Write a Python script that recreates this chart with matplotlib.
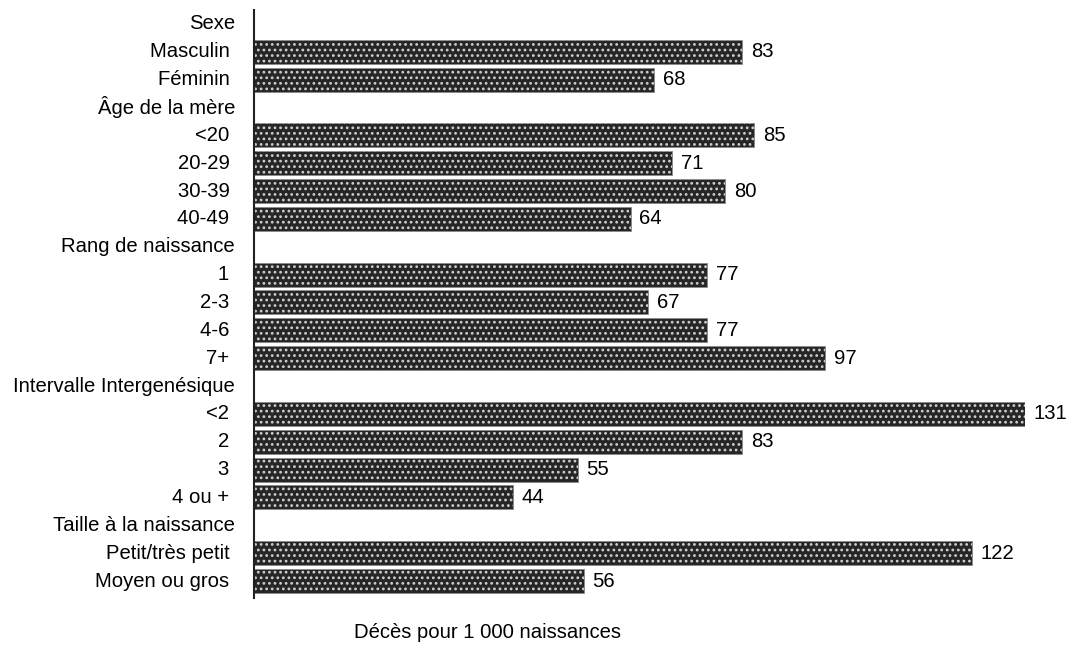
import matplotlib
matplotlib.use("Agg")
import matplotlib.pyplot as plt
import matplotlib.transforms as mtransforms
import numpy as np

plt.rcParams['font.family'] = ['Liberation Sans', 'DejaVu Sans']
plt.rcParams['hatch.linewidth'] = 1.2

# rows: group headers have no value
labels = ["Sexe", "Masculin", "Féminin",
          "Âge de la mère", "<20", "20-29", "30-39", "40-49",
          "Rang de naissance", "1", "2-3", "4-6", "7+",
          "Intervalle Intergenésique", "<2", "2", "3", "4 ou +",
          "Taille à la naissance", "Petit/très petit", "Moyen ou gros"]
values = [None, 83, 68,
          None, 85, 71, 80, 64,
          None, 77, 67, 77, 97,
          None, 131, 83, 55, 44,
          None, 122, 56]
xlabel = "Décès pour 1 000 naissances"
fs = 14.6

fig = plt.figure(figsize=(10.69, 6.46), dpi=100)
ax = fig.add_axes([254 / 1069, 1 - 598 / 646, 771 / 1069, 588 / 646])

# label position: a fixed pixel offset left of the axis line
lab_tr = ax.get_yaxis_transform() + mtransforms.ScaledTranslation(-19 / 100, 0, fig.dpi_scale_trans)

n = len(labels)
ypos = np.arange(n)
for y, lab, v in zip(ypos, labels, values):
    if v is None:
        ax.text(0, y, lab, ha='right', va='center', fontsize=fs,
                transform=lab_tr, clip_on=False)
        continue
    ax.barh(y, v, height=0.86, color='#262626', edgecolor='#8a8a8a', linewidth=0.6)
    ax.barh(y, v, height=0.86, color='none', edgecolor='#cfcfcf', hatch='...',
            linewidth=0)
    ax.text(0, y, lab + " ", ha='right', va='center', fontsize=fs,
            transform=lab_tr, clip_on=False)
    ax.text(v + 1.5, y, str(v), ha='left', va='center', fontsize=fs, clip_on=False)

ax.set_xlim(0, 131)
ax.set_ylim(20.61, -0.5)
ax.set_xticks([])
ax.set_yticks([])
for s in ['top', 'right', 'bottom']:
    ax.spines[s].set_visible(False)
ax.spines['left'].set_linewidth(1.5)
ax.spines['left'].set_color('#222222')

fig.text(488 / 1069, 1 - 632 / 646, xlabel, ha='center', va='center', fontsize=fs)

fig.savefig("out.png", dpi=100)
